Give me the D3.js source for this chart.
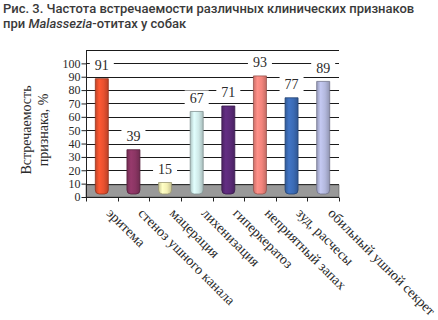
<!DOCTYPE html>
<html>
<head>
<meta charset="utf-8">
<script src="https://cdn.jsdelivr.net/npm/d3@7"></script>
<style>
    body { margin: 0; background: #fff; }
    svg { display: block; }
    .title { font-family: Roboto, 'Noto Sans', sans-serif; font-weight: 500; font-size: 13px; fill: #3a3a3a; }
    .serif { font-family: 'Liberation Serif', 'DejaVu Serif', serif; fill: #2a2a2a; }
</style>
</head>
<body>
<div id="chart"></div>
<script>
var categories = ['эритема', 'стеноз ушного канала', 'мацерация', 'лихенизация',
    'гиперкератоз', 'неприятный запах', 'зуд, расчесы', 'обильный ушной секрет'];
var values = [91, 39, 15, 67, 71, 93, 77, 89];
var bar_colors = ['#e8512f', '#8a3563', '#f4f0b4', '#cfe9e8', '#5b2a78', '#f2847c', '#3b6bb5', '#b3b8dd'];
var y_ticks = [0, 10, 20, 30, 40, 50, 60, 70, 80, 90, 100];

var width = 438, height = 320;

var svg = d3.select('#chart').append('svg')
    .attr('width', width)
    .attr('height', height);

// title
var title = svg.append('text').attr('class', 'title');
title.append('tspan').attr('x', 3).attr('y', 13)
    .text('Рис. 3. Частота встречаемости различных клинических признаков');
var t2 = svg.append('text').attr('class', 'title').attr('x', 3).attr('y', 28);
t2.append('tspan').text('при ');
t2.append('tspan').style('font-style', 'italic').text('Malassezia');
t2.append('tspan').text('-отитах у собак');

var x = d3.scaleBand().domain(categories).range([86, 339]).padding(0);
var y = d3.scaleLinear().domain([0, 110]).range([197, 50]);
// bars sit a bit lower than the wall scale (3d look)
var ybar = d3.scaleLinear().domain([0, 100]).range([y(0) + 6, y(100) + 3]);

// gridlines
svg.append('g')
    .selectAll('line')
    .data(y_ticks.slice(1).concat([110]))
    .enter().append('line')
        .attr('x1', 86).attr('x2', 339)
        .attr('y1', d => Math.round(y(d)) + 0.5)
        .attr('y2', d => Math.round(y(d)) + 0.5)
        .attr('stroke', '#1a1a1a')
        .attr('stroke-width', 1);

// floor
svg.append('rect')
    .attr('x', 86).attr('y', y(9))
    .attr('width', 253).attr('height', y(0) - y(9))
    .attr('fill', '#999999')
    .attr('stroke', '#555')
    .attr('stroke-width', 0.6);

// y axis
var yaxis = svg.append('g')
    .attr('transform', 'translate(86.5,0)')
    .call(d3.axisLeft(y).tickValues(y_ticks).tickSize(5).tickPadding(1))
    .call(g => g.select('.domain').attr('d', 'M0,' + y(110) + 'V' + (y(0) + 0.5)).attr('stroke', '#222'));
yaxis.selectAll('.tick line').attr('x2', 0).attr('x1', -5).attr('stroke', '#222');
yaxis.selectAll('text')
    .attr('class', 'serif')
    .style('font-size', '12px')
    .attr('fill', '#2a2a2a');

// x axis
var xaxis = svg.append('g')
    .attr('transform', 'translate(0,' + (y(0) + 0.5) + ')');
xaxis.append('line')
    .attr('x1', 86).attr('x2', 339)
    .attr('stroke', '#222');
xaxis.selectAll('.xt')
    .data(categories.map(c => x(c)).concat([339]))
    .enter().append('line')
        .attr('x1', d => Math.round(d) + 0.5)
        .attr('x2', d => Math.round(d) + 0.5)
        .attr('y1', 0).attr('y2', 4)
        .attr('stroke', '#222');

// gradients
var defs = svg.append('defs');
bar_colors.forEach(function (c, i) {
    var base = d3.color(c);
    var g = defs.append('linearGradient')
        .attr('id', 'grad' + i)
        .attr('x1', '0%').attr('x2', '100%')
        .attr('y1', '0%').attr('y2', '0%');
    g.append('stop').attr('offset', '0%').attr('stop-color', base.darker(0.5));
    g.append('stop').attr('offset', '30%').attr('stop-color', base.brighter(0.25));
    g.append('stop').attr('offset', '65%').attr('stop-color', base);
    g.append('stop').attr('offset', '100%').attr('stop-color', base.darker(0.6));
});

// bars
var bw = 13, r = 4, bottom = 194;
function barPath(d) {
    var cx = x(d.cat) + x.bandwidth() / 2;
    var x0 = cx - bw / 2, x1 = cx + bw / 2;
    var top = ybar(d.v);
    return 'M' + x0 + ',' + top +
        'H' + x1 +
        'V' + (bottom - r) +
        'Q' + x1 + ',' + bottom + ' ' + (x1 - r) + ',' + bottom +
        'H' + (x0 + r) +
        'Q' + x0 + ',' + bottom + ' ' + x0 + ',' + (bottom - r) +
        'Z';
}

var data = categories.map((c, i) => ({ cat: c, v: values[i], i: i }));

svg.append('g')
    .selectAll('path')
    .data(data)
    .enter().append('path')
        .attr('d', barPath)
        .attr('fill', d => 'url(#grad' + d.i + ')')
        .attr('stroke', d => d3.color(bar_colors[d.i]).darker(1.3))
        .attr('stroke-width', 0.8);

// value labels with white box over gridlines
var labels = svg.append('g');
labels.selectAll('rect')
    .data(data)
    .enter().append('rect')
        .attr('x', d => x(d.cat) + x.bandwidth() / 2 - 12)
        .attr('y', d => ybar(d.v) - 21)
        .attr('width', 24)
        .attr('height', 15)
        .attr('fill', '#fff');
labels.selectAll('text')
    .data(data)
    .enter().append('text')
        .attr('class', 'serif')
        .attr('x', d => x(d.cat) + x.bandwidth() / 2)
        .attr('y', d => ybar(d.v) - 8.5)
        .attr('text-anchor', 'middle')
        .style('font-size', '14px')
        .text(d => d.v);

// category labels
svg.append('g')
    .selectAll('text')
    .data(categories)
    .enter().append('text')
        .attr('class', 'serif')
        .attr('transform', d => 'translate(' + (x(d) + x.bandwidth() / 2 + 4) + ',214) rotate(45)')
        .style('font-size', '14px')
        .text(d => d);

// y title
var yt = svg.append('text')
    .attr('class', 'serif')
    .attr('transform', 'translate(31,130) rotate(-90)')
    .attr('text-anchor', 'middle')
    .style('font-size', '14px');
yt.append('tspan').attr('x', 0).attr('y', 0).text('Встречаемость');
yt.append('tspan').attr('x', 0).attr('y', 17).text('признака, %');
</script>
</body>
</html>
